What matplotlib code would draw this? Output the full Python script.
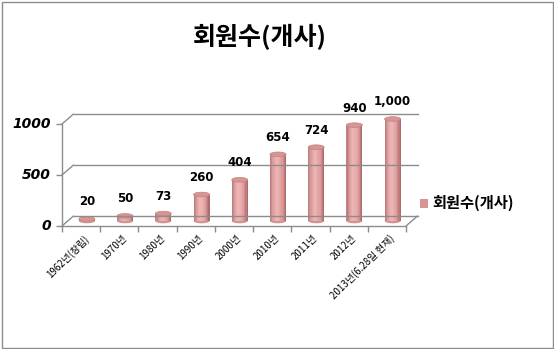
import numpy as np
import matplotlib
matplotlib.use('Agg')
from matplotlib import pyplot as plt
from matplotlib import transforms
from matplotlib.patches import Ellipse, Rectangle

plt.rcParams['font.family'] = ['Noto Sans CJK KR', 'DejaVu Sans']

# 데이터
categories = ['1962년(창립)', '1970년', '1980년', '1990년', '2000년',
              '2010년', '2011년', '2012년', '2013년(6.28일 현재)']
values = [20, 50, 73, 260, 404, 654, 724, 940, 1000]
value_labels = ['20', '50', '73', '260', '404', '654', '724', '940', '1,000']
y_ticks = [0, 500, 1000]
series_name = '회원수(개사)'

W, H = 554, 349
fig = plt.figure(figsize=(W / 100, H / 100), dpi=100)
ax = fig.add_axes([62 / W, (H - 226) / H, 344 / W, 102 / H])
ax.set_xlim(-0.5, len(categories) - 0.5)
ax.set_ylim(0, 1000)
ax.axis('off')

# 3D 느낌용 오프셋 (픽셀)
dx, dy = 11.5, 10
back = transforms.offset_copy(ax.transData, fig, x=dx, y=dy, units='dots')
mid = transforms.offset_copy(ax.transData, fig, x=dx / 2, y=dy / 2, units='dots')

x0, x1 = -0.5, len(categories) - 0.5
grid_c = '#8c8c8c'

# 뒷벽 격자선 + 옆 대각선
for t in y_ticks:
    ax.plot([x0, x1], [t, t], color=grid_c, lw=1, transform=back, clip_on=False)
    ax.annotate('', xy=(x0, t), xycoords='data', xytext=(dx, dy),
                textcoords='offset pixels',
                arrowprops=dict(arrowstyle='-', color=grid_c, lw=1,
                                shrinkA=0, shrinkB=0))
    # 눈금
    ax.plot([x0], [t], marker=0, markersize=4, color=grid_c, clip_on=False)
    ax.text(x0, t, f'{t}', transform=transforms.offset_copy(ax.transData, fig, x=-11, y=0, units='dots'),
            ha='right', va='center', fontsize=10, fontweight='bold',
            fontstyle='italic', family='DejaVu Sans')

# 앞쪽 축선, 바닥
ax.plot([x0, x0], [0, 1000], color=grid_c, lw=1, clip_on=False)
ax.plot([x0, x1], [0, 0], color=grid_c, lw=1, clip_on=False)
ax.annotate('', xy=(x1, 0), xycoords='data', xytext=(dx, dy),
            textcoords='offset pixels',
            arrowprops=dict(arrowstyle='-', color=grid_c, lw=1, shrinkA=0, shrinkB=0))
for b in np.arange(x0, x1 + 0.01, 1):
    ax.plot([b], [0], marker=3, markersize=4, color=grid_c, clip_on=False)

# 원통 막대
bw = 0.42
n_strip = 14
shade = plt.matplotlib.colors.LinearSegmentedColormap.from_list(
    'cyl', ['#c07e7e', '#e0a2a2', '#eeb6b6', '#e8abab', '#d89898', '#b06a6a'])
cap_h = 45
for i, v in enumerate(values):
    ax.add_patch(Ellipse((i, 0), bw, cap_h, facecolor='#d49494', edgecolor='none',
                         transform=mid, clip_on=False))
    for k in range(n_strip):
        xs = i - bw / 2 + k * bw / n_strip
        ax.bar(xs, v, width=bw / n_strip * 1.02, align='edge',
               color=shade(k / (n_strip - 1)), edgecolor='none',
               transform=mid, clip_on=False)
    ax.add_patch(Ellipse((i, v), bw, cap_h, facecolor='#d99494', edgecolor='#c48080',
                         lw=0.5, transform=mid, clip_on=False))
    ax.annotate(value_labels[i], xy=(i, v), xytext=(dx / 2, dy / 2 + 17),
                textcoords='offset pixels', ha='center', va='center',
                fontsize=8.5, fontweight='bold', family='DejaVu Sans')

# x 라벨
lab_tr = transforms.offset_copy(ax.transData, fig, x=2, y=-7, units='dots')
for i, c in enumerate(categories):
    ax.text(i, 0, c, transform=lab_tr, rotation=45, rotation_mode='anchor',
            ha='right', va='top', fontsize=7)

# 제목
fig.text(260 / W, 1 - 37 / H, series_name, ha='center', va='center',
         fontsize=18, fontweight='bold')

# 범례
fig.patches.append(Rectangle((420 / W, 1 - 208 / H), 8 / W, 9 / H,
                             transform=fig.transFigure, facecolor='#d99594',
                             edgecolor='none'))
fig.text(432 / W, 1 - 203 / H, series_name, ha='left', va='center',
         fontsize=11, fontweight='bold')

# 테두리
fig.patches.append(Rectangle((1.5 / W, 1.5 / H), (W - 3) / W, (H - 3) / H,
                             transform=fig.transFigure, facecolor='none',
                             edgecolor='#8c8c8c', lw=1))

fig.savefig('out.png', dpi=100, facecolor='white')
